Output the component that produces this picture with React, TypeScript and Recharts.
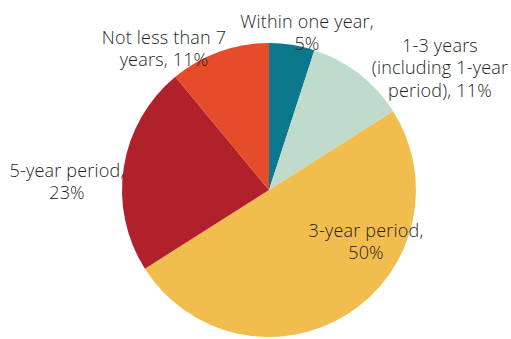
import { Pie, PieChart, Cell } from 'recharts'

const categories = [
  'Within one year',
  '1-3 years (including 1-year period)',
  '3-year period',
  '5-year period',
  'Not less than 7 years',
]
const shares = [5, 11, 50, 23, 11]
const labelLines = [
  ['Within one year,', '5%'],
  ['1-3 years', '(including 1-year', 'period), 11%'],
  ['3-year period,', '50%'],
  ['5-year period,', '23%'],
  ['Not less than 7', 'years, 11%'],
]

const colors = ['#0B788B', '#BEDBCC', '#F2BD4F', '#B1212B', '#E64B2A']
// label centre offsets from pie centre
const labelOffsets = [
  [38, -158],
  [171, -123],
  [97, 51],
  [-202, -9],
  [-105, -142],
]

const data = categories.map((name, i) => ({ name, value: shares[i] }))

const renderLabel = (props: any) => {
  const { cx, cy, index } = props
  const lines = labelLines[index]
  const [dx, dy] = labelOffsets[index]
  const lh = 22.5
  const startY = cy + dy - ((lines.length - 1) * lh) / 2
  return (
    <text
      x={cx + dx}
      textAnchor="middle"
      fill="#231F20"
      fontFamily="'Open Sans', sans-serif"
      fontWeight={300}
      fontSize={18}
      letterSpacing={0.2}
    >
      {lines.map((l, k) => (
        <tspan key={k} x={cx + dx} y={startY + k * lh} dominantBaseline="central">
          {l}
        </tspan>
      ))}
    </text>
  )
}

export default function App() {
  return (
    <div style={{ position: 'absolute', left: 0, top: 0, background: '#fff' }}>
      <PieChart width={511} height={339} margin={{ top: 0, right: 0, bottom: 0, left: 0 }}>
        <Pie
          data={data}
          dataKey="value"
          nameKey="name"
          cx={269}
          cy={190}
          outerRadius={147}
          startAngle={90}
          endAngle={-270}
          stroke="none"
          label={renderLabel}
          labelLine={false}
          isAnimationActive={false}
        >
          {data.map((d, i) => (
            <Cell key={d.name} fill={colors[i]} />
          ))}
        </Pie>
      </PieChart>
    </div>
  )
}
